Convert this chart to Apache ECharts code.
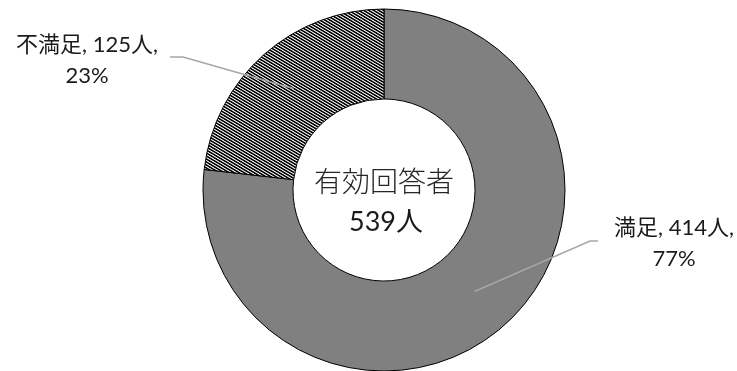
<!DOCTYPE html>
<html>
<head>
<meta charset="utf-8">
<script src="https://cdn.jsdelivr.net/npm/echarts@6/dist/echarts.min.js"></script>
<style>
  html, body { margin: 0; padding: 0; background: #fff; }
  #chart { width: 737px; height: 371px; }
</style>
</head>
<body>
<div id="chart"></div>
<script>
// Survey responses
const categories = ['満足', '不満足'];
const counts = [414, 125];
const centerTitle = '有効回答者';
const unit = '人';

const total = counts.reduce((a, b) => a + b, 0);
const FONT = 'Lato, "Noto Sans CJK JP", sans-serif';

// Diagonal hatch tile for the second slice (supersampled stripes)
function hatchTile() {
  const w = 5, h = 3, ss = 4;
  const c = document.createElement('canvas');
  c.width = w; c.height = h;
  const ctx = c.getContext('2d');
  const img = ctx.createImageData(w, h);
  for (let y = 0; y < h; y++) {
    for (let x = 0; x < w; x++) {
      let cover = 0;
      for (let sy = 0; sy < ss; sy++) {
        for (let sx = 0; sx < ss; sx++) {
          const px = x + (sx + 0.5) / ss, py = y + (sy + 0.5) / ss;
          const v = (((3 * px - 5 * py) % 15) + 15) % 15;
          if (v < 8.5) cover++;
        }
      }
      const g = Math.round(255 * (1 - Math.min(1, cover * 1.15 / (ss * ss))));
      const i = (y * w + x) * 4;
      img.data[i] = img.data[i + 1] = img.data[i + 2] = g;
      img.data[i + 3] = 255;
    }
  }
  ctx.putImageData(img, 0, 0);
  return c;
}

const CX = 384, CY = 190, R_IN = 91, R_OUT = 181;

// mid-angle of each slice (clockwise from 12 o'clock), derived from the values
const midAngles = [];
{
  let acc = 0;
  counts.forEach(v => {
    midAngles.push((acc + v / 2) / total * 2 * Math.PI);
    acc += v;
  });
}
const rMid = (R_IN + R_OUT) / 2;
const anchorOf = i => [CX + rMid * Math.sin(midAngles[i]), CY - rMid * Math.cos(midAngles[i])];

// label placement: label centre x/y, elbow x, line end x, line y
const labelPlaces = [
  { x: 674, y: 243, elbow: 590, end: 598, lineY: 241 },
  { x: 87, y: 60, elbow: 183, end: 170, lineY: 57 }
];

const chart = echarts.init(document.getElementById('chart'), null, { renderer: 'canvas' });

const fills = ['#808080', { image: hatchTile(), repeat: 'repeat' }];

// leader lines from the middle of each ring slice out to its label
const leaders = categories.map((_, i) => {
  const p = labelPlaces[i];
  return {
    type: 'polyline',
    silent: true,
    z: 100,
    shape: { points: [anchorOf(i), [p.elbow, p.lineY], [p.end, p.lineY]] },
    style: { stroke: '#a6a6a6', lineWidth: 1.5, fill: null }
  };
});

chart.setOption({
  animation: false,
  backgroundColor: '#ffffff',
  series: [{
    type: 'pie',
    center: [CX, CY],
    radius: [R_IN, R_OUT],
    startAngle: 90,
    clockwise: true,
    silent: true,
    data: categories.map((name, i) => ({
      name,
      value: counts[i],
      itemStyle: { color: fills[i], borderColor: '#000', borderWidth: 1 }
    })),
    label: {
      show: true,
      position: 'outside',
      color: '#1a1a1a',
      fontFamily: FONT,
      fontSize: 22,
      lineHeight: 31,
      align: 'center',
      formatter: p => `${p.name}, ${p.value}${unit},\n${Math.round(p.value / total * 100)}%`
    },
    labelLine: { show: false },
    labelLayout: params => {
      const p = labelPlaces[params.dataIndex];
      return { x: p.x, y: p.y, align: 'center', verticalAlign: 'middle' };
    }
  }],
  graphic: leaders.concat([
    {
      type: 'text',
      silent: true,
      z: 100,
      style: {
        text: centerTitle,
        x: CX, y: 183,
        align: 'center', verticalAlign: 'middle',
        fill: '#262626',
        font: '300 28px ' + FONT
      }
    },
    {
      type: 'text',
      silent: true,
      z: 100,
      style: {
        text: total + unit,
        x: CX + 2, y: 222,
        align: 'center', verticalAlign: 'middle',
        fill: '#1a1a1a',
        font: '27px ' + FONT
      }
    }
  ])
});
</script>
</body>
</html>
